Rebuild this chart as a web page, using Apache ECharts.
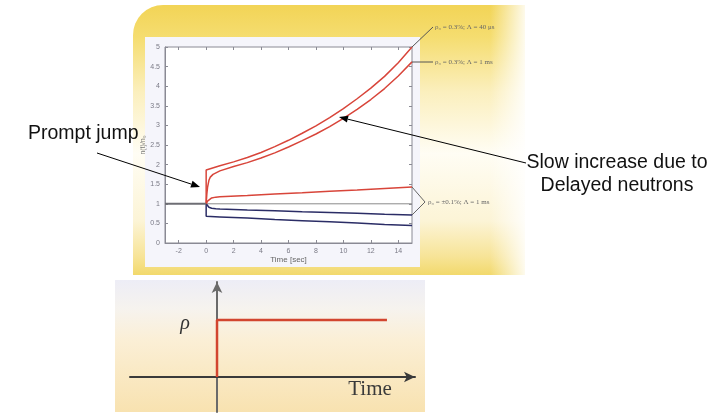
<!DOCTYPE html>
<html><head><meta charset="utf-8">
<script src="https://cdn.jsdelivr.net/npm/echarts@6/dist/echarts.min.js"></script>
<style>html,body{margin:0;padding:0;background:#fff}#c{width:721px;height:418px}</style>
</head><body><div id="c"></div>
<script>
// ---- data ----
const xTickValues = [-2, 0, 2, 4, 6, 8, 10, 12, 14];
const preTime = [-3, 0];
const preValue = [1, 1];
const zeroTime = [0, 15];
const zeroValue = [1, 1];
// rho = 0.3%, Lambda = 40 us
const timeA = [0, 0, 1, 2, 3, 4, 5, 6, 7, 8, 9, 10, 11, 12, 13, 14, 15];
const valueA = [1, 1.86, 1.97, 2.07, 2.18, 2.31, 2.46, 2.62, 2.80, 2.99, 3.20, 3.43, 3.68, 3.95, 4.25, 4.60, 5.00];
// rho = 0.3%, Lambda = 1 ms
const timeB = [0, 0.05, 0.1, 0.2, 0.3, 0.5, 1, 2, 3, 4, 5, 6, 7, 8, 9, 10, 11, 12, 13, 14, 15];
const valueB = [1, 1.25, 1.42, 1.6, 1.68, 1.75, 1.84, 1.95, 2.05, 2.17, 2.30, 2.45, 2.61, 2.78, 2.97, 3.18, 3.41, 3.66, 3.94, 4.26, 4.62];
// rho = +0.1%, Lambda = 1 ms
const timeC = [0, 0.1, 0.2, 0.4, 0.7, 1, 3, 5, 7, 9, 11, 13, 15];
const valueC = [1, 1.07, 1.11, 1.15, 1.17, 1.18, 1.21, 1.25, 1.28, 1.32, 1.35, 1.39, 1.43];
// rho = -0.1%, Lambda = 1 ms
const timeD = [0, 0.1, 0.2, 0.4, 0.7, 1, 3, 5, 7, 9, 11, 13, 15];
const valueD = [1, 0.95, 0.91, 0.885, 0.872, 0.867, 0.845, 0.825, 0.80, 0.78, 0.76, 0.735, 0.714];
// rho = -0.3%
const timeE = [0, 0, 1, 3, 5, 7, 9, 11, 13, 15];
const valueE = [1, 0.68, 0.665, 0.635, 0.60, 0.57, 0.54, 0.51, 0.475, 0.445];
// reactivity step (lower sketch)
const stepTime = [0, 0, 10];
const stepValue = [0, 1, 1];
const curveLabels = ['ρ₀ = 0.3%; Λ = 40 μs', 'ρ₀ = 0.3%; Λ = 1 ms', 'ρ₀ = ±0.1%; Λ = 1 ms'];

const zip = (a, b) => a.map((v, i) => [v, b[i]]);

function arrow(x1, y1, x2, y2) {
  const a = Math.atan2(y2 - y1, x2 - x1), L = 9, W = 3.5;
  const bx = x2 - L * Math.cos(a), by = y2 - L * Math.sin(a);
  return [
    {type: 'line', z: 100, shape: {x1, y1, x2: bx, y2: by}, style: {stroke: '#000', lineWidth: 1}},
    {type: 'polygon', z: 100, shape: {points: [[x2, y2], [bx + W * Math.sin(a), by - W * Math.cos(a)], [bx - W * Math.sin(a), by + W * Math.cos(a)]]}, style: {fill: '#000'}}
  ];
}

const chart = echarts.init(document.getElementById('c'), null, {renderer: 'canvas'});
const tickLbl = {color: '#7a7a86', fontSize: 7, fontFamily: 'Liberation Sans'};
const axisGray = '#8a8a94';

chart.setOption({
  animation: false,
  backgroundColor: '#ffffff',
  graphic: {elements: [
    // top slide panel
    {type: 'rect', z: -100, shape: {x: 133, y: 5, width: 392, height: 270, r: [30, 0, 0, 0]},
     style: {fill: new echarts.graphic.LinearGradient(0, 0, 0, 1, [
       {offset: 0, color: '#f2d456'}, {offset: 0.12, color: '#f5dd70'}, {offset: 0.32, color: '#fbefbd'},
       {offset: 0.55, color: '#fffdf4'}, {offset: 0.8, color: '#fcf4d6'}, {offset: 0.93, color: '#f7e498'}, {offset: 1, color: '#f2d96c'}])}},
    {type: 'rect', z: -99, shape: {x: 490, y: 5, width: 36, height: 270},
     style: {fill: new echarts.graphic.LinearGradient(0, 0, 1, 0, [
       {offset: 0, color: 'rgba(255,255,255,0)'}, {offset: 1, color: 'rgba(255,255,255,0.9)'}])}},
    {type: 'rect', z: -98, shape: {x: 145, y: 37, width: 275, height: 230}, style: {fill: '#f5f5fb'}},
    // lower sketch panel
    {type: 'rect', z: -100, shape: {x: 115, y: 280, width: 310, height: 132},
     style: {fill: new echarts.graphic.LinearGradient(0, 0, 0, 1, [
       {offset: 0, color: '#ededf6'}, {offset: 0.22, color: '#f6f3ee'}, {offset: 0.45, color: '#fbefd6'}, {offset: 1, color: '#f8e2b0'}])}},
    // right-hand curve labels and leaders
    {type: 'polyline', z: 100, shape: {points: [[412, 47], [433, 27]]}, style: {stroke: '#555', lineWidth: 1}},
    {type: 'polyline', z: 100, shape: {points: [[412, 62], [433, 62]]}, style: {stroke: '#555', lineWidth: 1}},
    {type: 'polyline', z: 100, shape: {points: [[412, 187], [425, 202], [412, 215]]}, style: {stroke: '#666', lineWidth: 1}},
    {type: 'text', z: 100, x: 435, y: 27, style: {text: curveLabels[0], fill: '#666', fontSize: 7, fontFamily: 'Liberation Serif', verticalAlign: 'middle'}},
    {type: 'text', z: 100, x: 435, y: 62, style: {text: curveLabels[1], fill: '#666', fontSize: 7, fontFamily: 'Liberation Serif', verticalAlign: 'middle'}},
    {type: 'text', z: 100, x: 428, y: 202, style: {text: curveLabels[2], fill: '#666', fontSize: 7, fontFamily: 'Liberation Serif', verticalAlign: 'middle'}},
    // annotations
    {type: 'text', z: 100, x: 28, y: 134, style: {text: 'Prompt jump', fill: '#111', fontSize: 19.5, fontFamily: 'Liberation Sans', verticalAlign: 'middle'}},
    {type: 'text', z: 100, x: 617, y: 163, style: {text: 'Slow increase due to', fill: '#111', fontSize: 19.5, fontFamily: 'Liberation Sans', align: 'center', verticalAlign: 'middle'}},
    {type: 'text', z: 100, x: 617, y: 186, style: {text: 'Delayed neutrons', fill: '#111', fontSize: 19.5, fontFamily: 'Liberation Sans', align: 'center', verticalAlign: 'middle'}},
    ...arrow(97, 153, 200, 187),
    ...arrow(526, 163, 339, 117),
    // lower sketch texts
    {type: 'text', z: 100, x: 185, y: 324, style: {text: 'ρ', fill: '#333', fontSize: 20, fontStyle: 'italic', fontFamily: 'Liberation Serif', align: 'center', verticalAlign: 'middle'}},
    {type: 'text', z: 100, x: 370, y: 389, style: {text: 'Time', fill: '#3a3a3a', fontSize: 21, fontFamily: 'Liberation Serif', align: 'center', verticalAlign: 'middle'}}
  ]},
  grid: [
    {left: 165, top: 47, width: 247, height: 196, show: true, backgroundColor: '#ffffff', borderColor: axisGray, borderWidth: 1},
    {left: 130, top: 282, width: 285, height: 130, show: false}
  ],
  xAxis: [
    {type: 'value', gridIndex: 0, min: -3, max: 15, position: 'bottom',
     name: 'Time [sec]', nameLocation: 'middle', nameGap: 13, nameTextStyle: {color: '#666', fontSize: 8, fontFamily: 'Liberation Sans'},
     axisLine: {onZero: false, lineStyle: {color: axisGray}}, splitLine: {show: false},
     axisTick: {inside: true, length: 3, customValues: xTickValues, lineStyle: {color: axisGray}},
     axisLabel: {customValues: xTickValues, margin: 5, ...tickLbl}},
    {type: 'value', gridIndex: 0, min: -3, max: 15, position: 'top',
     axisLine: {show: false, onZero: false}, splitLine: {show: false}, axisLabel: {show: false},
     axisTick: {inside: true, length: 3, customValues: xTickValues, lineStyle: {color: axisGray}}},
    {type: 'value', gridIndex: 1, min: -5.12, max: 11.65,
     axisLine: {onZero: true, symbol: ['none', 'arrow'], symbolSize: [8, 11], lineStyle: {color: '#3a3a3a', width: 2}},
     axisTick: {show: false}, axisLabel: {show: false}, splitLine: {show: false}}
  ],
  yAxis: [
    {type: 'value', gridIndex: 0, min: 0, max: 5, interval: 0.5, position: 'left',
     name: 'n(t)/n₀', nameLocation: 'middle', nameGap: 17, nameTextStyle: {color: '#777', fontSize: 7, fontFamily: 'Liberation Sans'},
     axisLine: {show: true, onZero: false, lineStyle: {color: axisGray}}, splitLine: {show: false},
     axisTick: {inside: true, length: 3, lineStyle: {color: axisGray}},
     axisLabel: {margin: 5, ...tickLbl}},
    {type: 'value', gridIndex: 0, min: 0, max: 5, interval: 0.5, position: 'right',
     axisLine: {show: false, onZero: false}, splitLine: {show: false}, axisLabel: {show: false},
     axisTick: {inside: true, length: 3, lineStyle: {color: axisGray}}},
    {type: 'value', gridIndex: 1, min: -0.614, max: 1.667,
     axisLine: {onZero: true, symbol: ['none', 'arrow'], symbolSize: [8, 11], lineStyle: {color: '#6a6a6a', width: 2}},
     axisTick: {show: false}, axisLabel: {show: false}, splitLine: {show: false}}
  ],
  series: [
    {type: 'line', xAxisIndex: 0, yAxisIndex: 0, data: zip(zeroTime, zeroValue), showSymbol: false, lineStyle: {color: '#8a8a8a', width: 1}, z: 3},
    {type: 'line', xAxisIndex: 0, yAxisIndex: 0, data: zip(timeE, valueE), showSymbol: false, lineStyle: {color: '#2b2d66', width: 1.5}, z: 4},
    {type: 'line', xAxisIndex: 0, yAxisIndex: 0, data: zip(timeD, valueD), showSymbol: false, lineStyle: {color: '#2b2d66', width: 1.5}, z: 4},
    {type: 'line', xAxisIndex: 0, yAxisIndex: 0, data: zip(timeC, valueC), showSymbol: false, lineStyle: {color: '#d8453a', width: 1.5}, z: 5},
    {type: 'line', xAxisIndex: 0, yAxisIndex: 0, data: zip(timeB, valueB), showSymbol: false, lineStyle: {color: '#d8453a', width: 1.5}, z: 5},
    {type: 'line', xAxisIndex: 0, yAxisIndex: 0, data: zip(timeA, valueA), showSymbol: false, lineStyle: {color: '#d8453a', width: 1.5}, z: 5},
    {type: 'line', xAxisIndex: 0, yAxisIndex: 0, data: zip(preTime, preValue), showSymbol: false, lineStyle: {color: '#6e6e74', width: 2}, z: 6},
    {type: 'line', xAxisIndex: 2, yAxisIndex: 2, data: zip(stepTime, stepValue), showSymbol: false, lineStyle: {color: '#d2452f', width: 2.5}, z: 6}
  ]
});
</script>
</body></html>
